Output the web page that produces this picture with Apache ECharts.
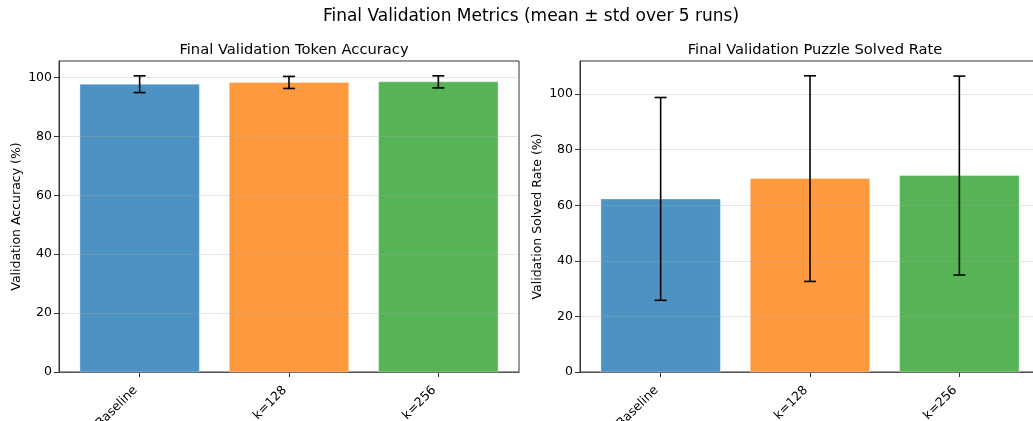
<!DOCTYPE html>
<html>
<head>
<meta charset="utf-8">
<script src="https://cdn.jsdelivr.net/npm/echarts@6/dist/echarts.min.js"></script>
<style>
html,body{margin:0;padding:0;background:#fff;}
#chart{width:1033px;height:421px;}
</style>
</head>
<body>
<div id="chart"></div>
<script>
// ---- data ----
const categories = ['Baseline', 'k=128', 'k=256'];
const catPositions = [0, 1, 2];
const accMean = [97.7, 98.3, 98.5];
const accStd = [2.85, 2.05, 2.05];
const solvedMean = [62.3, 69.6, 70.7];
const solvedStd = [36.5, 37.0, 35.8];
const yTicks = [0, 20, 40, 60, 80, 100];

// ---- style ----
const FONT = 'DejaVu Sans';
const barColors = ['#4c92c3', '#ff993e', '#56b356'];

function axisMax(mean, std) {
  let m = 0;
  for (let i = 0; i < mean.length; i++) m = Math.max(m, mean[i] + std[i]);
  return m * 1.05;
}

function barSeries(idx, mean) {
  return {
    type: 'custom', xAxisIndex: idx, yAxisIndex: idx, z: 2,
    data: mean.map((v, i) => [catPositions[i], v]),
    renderItem: function (params, api) {
      const x = api.value(0), y = api.value(1);
      const top = api.coord([x, y]);
      const base = api.coord([x, 0]);
      const w = api.size([0.8, 0])[0];
      return {
        type: 'rect',
        shape: { x: top[0] - w / 2, y: top[1], width: w, height: base[1] - top[1] },
        style: { fill: barColors[params.dataIndex], stroke: 'rgba(255,255,255,0.35)', lineWidth: 1 }
      };
    }
  };
}

function errSeries(idx, mean, std) {
  return {
    type: 'custom', xAxisIndex: idx, yAxisIndex: idx, z: 5,
    data: mean.map((v, i) => [catPositions[i], v - std[i], v + std[i]]),
    renderItem: function (params, api) {
      const x = api.value(0);
      const lo = api.coord([x, api.value(1)]);
      const hi = api.coord([x, api.value(2)]);
      const cap = 6;
      const st = { stroke: '#000', lineWidth: 1.6 };
      return {
        type: 'group',
        children: [
          { type: 'line', shape: { x1: lo[0], y1: lo[1], x2: hi[0], y2: hi[1] }, style: st },
          { type: 'line', shape: { x1: lo[0] - cap, y1: lo[1], x2: lo[0] + cap, y2: lo[1] }, style: st },
          { type: 'line', shape: { x1: hi[0] - cap, y1: hi[1], x2: hi[0] + cap, y2: hi[1] }, style: st }
        ]
      };
    }
  };
}

function xAxis(idx) {
  return {
    type: 'value', gridIndex: idx, min: -0.54, max: 2.54,
    axisLine: { show: true, onZero: false, lineStyle: { color: '#333', width: 1 } },
    axisTick: { show: true, inside: false, length: 5, customValues: catPositions, lineStyle: { color: '#333' } },
    axisLabel: {
      show: true, customValues: catPositions, rotate: 45, margin: 12,
      padding: [0, 6, 0, 0],
      fontFamily: FONT, fontSize: 12.5, color: '#000',
      formatter: v => categories[Math.round(v)]
    },
    splitLine: { show: false }
  };
}

function yAxis(idx, max, name) {
  return {
    type: 'value', gridIndex: idx, min: 0, max: max, z: 3,
    name: name, nameLocation: 'middle', nameRotate: 90, nameGap: 36,
    nameTextStyle: { fontFamily: FONT, fontSize: 12.5, color: '#000' },
    axisLine: { show: true, onZero: false, lineStyle: { color: '#333', width: 1 } },
    axisTick: { show: true, inside: false, length: 5, customValues: yTicks, lineStyle: { color: '#333' } },
    axisLabel: { show: true, customValues: yTicks, fontFamily: FONT, fontSize: 12.5, color: '#000', margin: 7 },
    splitLine: { show: true, lineStyle: { color: 'rgba(170,170,170,0.3)', width: 1 } }
  };
}

const chart = echarts.init(document.getElementById('chart'), null, { renderer: 'canvas' });
chart.setOption({
  animation: false,
  backgroundColor: '#fff',
  title: [
    { text: 'Final Validation Metrics (mean ± std over 5 runs)', left: 526, top: 3, textAlign: 'center',
      textStyle: { fontFamily: FONT, fontSize: 17, fontWeight: 'normal', color: '#000' } },
    { text: 'Final Validation Token Accuracy', left: 289, top: 38, textAlign: 'center',
      textStyle: { fontFamily: FONT, fontSize: 14.7, fontWeight: 'normal', color: '#000' } },
    { text: 'Final Validation Puzzle Solved Rate', left: 810, top: 38, textAlign: 'center',
      textStyle: { fontFamily: FONT, fontSize: 14.7, fontWeight: 'normal', color: '#000' } }
  ],
  grid: [
    { left: 59, top: 61, width: 460, height: 311, outerBoundsMode: 'none', containLabel: false,
      show: true, borderColor: '#333', borderWidth: 1, backgroundColor: 'transparent' },
    { left: 580, top: 61, width: 460, height: 311, outerBoundsMode: 'none', containLabel: false,
      show: true, borderColor: '#333', borderWidth: 1, backgroundColor: 'transparent' }
  ],
  xAxis: [xAxis(0), xAxis(1)],
  yAxis: [
    yAxis(0, axisMax(accMean, accStd), 'Validation Accuracy (%)'),
    yAxis(1, axisMax(solvedMean, solvedStd), 'Validation Solved Rate (%)')
  ],
  series: [
    barSeries(0, accMean), errSeries(0, accMean, accStd),
    barSeries(1, solvedMean), errSeries(1, solvedMean, solvedStd)
  ]
});
</script>
</body>
</html>
